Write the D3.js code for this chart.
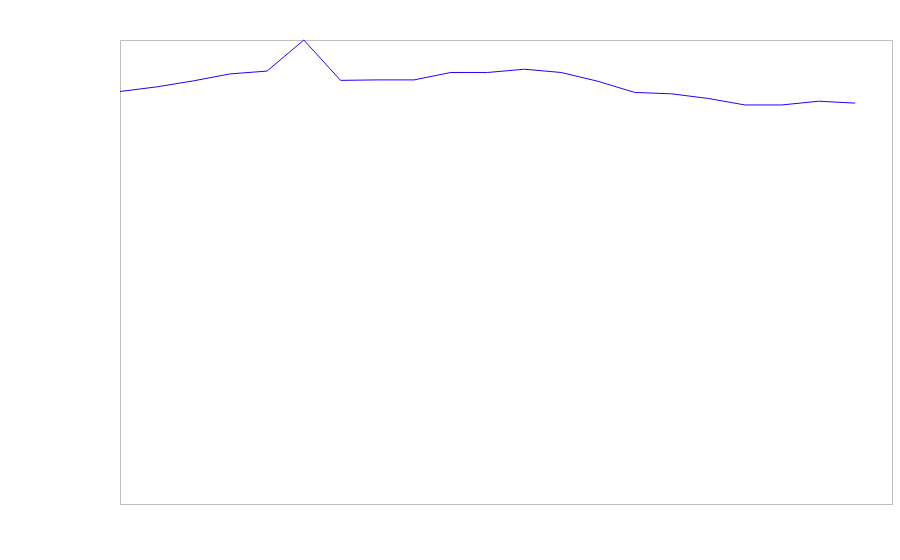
<!DOCTYPE html>
<html lang="en">
<head>
    <meta charset="UTF-8">
    <title>Line</title>
    <script src="https://cdn.jsdelivr.net/npm/d3@7"></script>
    <style>
        body { margin: 0; background: #fff; }
    </style>
</head>
<body>
    <script>
        // values (0..100 scale, peak at the top of the frame)
        const steps = d3.range(21);
        const values = [88.9, 89.9, 91.2, 92.7, 93.3, 100, 91.3, 91.4, 91.4, 93.0, 93.0,
                        93.7, 93.0, 91.1, 88.7, 88.4, 87.4, 86.0, 86.0, 86.8, 86.4];
        const yDomain = [0, 100];

        let w = 900;
        let h = 560;
        let margin = {top: 40, right: 8, bottom: 56, left: 120};

        let svg = d3.select("body")
                    .append("svg")
                    .attr("width", w)
                    .attr("height", h);

        let xScale = d3.scaleLinear()
            .domain([0, steps.length])
            .range([margin.left, w - margin.right]);

        let yScale = d3.scaleLinear()
            .domain(yDomain)
            .range([h - margin.bottom, margin.top]);

        // frame
        svg.append("rect")
            .attr("x", margin.left + 0.5)
            .attr("y", margin.top + 0.5)
            .attr("width", w - margin.left - margin.right)
            .attr("height", h - margin.top - margin.bottom)
            .attr("fill", "none")
            .attr("stroke", "#bfbfbf");

        let line = d3.line()
            .x((d, i) => xScale(steps[i]))
            .y(d => yScale(d));

        svg.append("path")
            .datum(values)
            .attr("fill", "none")
            .attr("stroke", "#2200ff")
            .attr("stroke-width", 1)
            .attr("d", line);
    </script>
</body>
</html>
